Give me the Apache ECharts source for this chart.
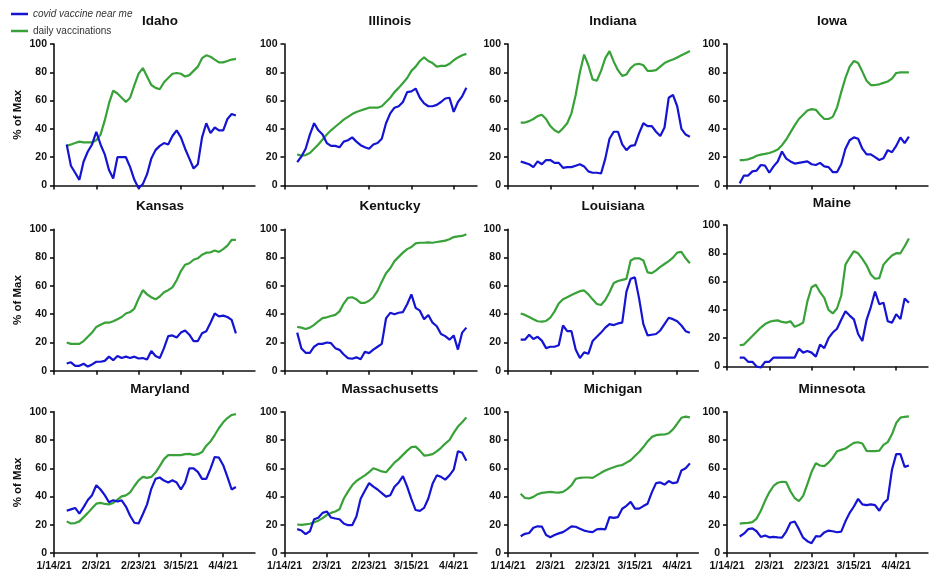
<!DOCTYPE html>
<html>
<head>
<meta charset="utf-8">
<script src="https://cdn.jsdelivr.net/npm/echarts@6.0.0/dist/echarts.min.js"></script>
<style>
  html, body { margin: 0; padding: 0; background: #fff; }
  #main { width: 929px; height: 574px; }
</style>
</head>
<body>
<div id="main"></div>
<script>
// panels, left to right, top to bottom
const states = ['Idaho', 'Illinois', 'Indiana', 'Iowa', 'Kansas', 'Kentucky', 'Louisiana', 'Maine',
  'Maryland', 'Massachusetts', 'Michigan', 'Minnesota'];

// sample dates (every 2nd day, 2021)
const dates = ['1/20', '1/22', '1/24', '1/26', '1/28', '1/30', '2/1', '2/3', '2/5', '2/7', '2/9', '2/11',
  '2/13', '2/15', '2/17', '2/19', '2/21', '2/23', '2/25', '2/27', '3/1', '3/3', '3/5', '3/7', '3/9',
  '3/11', '3/13', '3/15', '3/17', '3/19', '3/21', '3/23', '3/25', '3/27', '3/29', '3/31', '4/2', '4/4',
  '4/6', '4/8', '4/10'];
const tickDates = ['1/14', '2/3', '2/23', '3/15', '4/4'];
const tickLabels = ['1/14/21', '2/3/21', '2/23/21', '3/15/21', '4/4/21'];

// "covid vaccine near me" search interest, % of max
const idahoSearch = [29, 14, 9, 4, 17, 24, 29, 38, 29, 22, 11, 5, 20, 20, 20, 13, 4, -2, 1, 8, 19, 25, 28, 30, 29, 35, 39, 34, 26, 19, 12, 15, 34, 44, 37, 41, 39, 39, 47, 50.5, 49.5];
const illinoisSearch = [16.5, 20.5, 26, 36, 44, 39, 36, 30, 28, 28, 27, 31, 32, 34, 31, 28.5, 27, 26, 29, 30, 33, 44, 51, 55, 56, 59, 66, 66.5, 68.5, 62, 58, 56, 56, 57, 59, 61.5, 62, 52, 59, 63, 69];
const indianaSearch = [17, 16, 15, 13, 17, 15, 18, 18, 16, 16, 12.5, 13, 13, 14, 15, 13.5, 10, 9, 9, 8.5, 19, 33, 38, 38, 29, 25, 28, 28.5, 37, 44, 42, 42, 38, 35, 41, 62, 64, 56, 40, 36, 34.5];
const iowaSearch = [1.5, 7, 7, 10, 10.5, 14.5, 14, 9, 13.5, 17, 24, 19, 17, 15.5, 16, 16.5, 17, 15, 14.5, 16, 13.5, 13, 9.5, 9.4, 15, 26, 32, 34, 33, 26, 22, 22, 20, 18, 19.3, 25, 23.5, 28, 34, 30, 34.5];
const kansasSearch = [5.2, 6, 3.5, 3.5, 5, 3, 4.5, 6.4, 6.4, 7, 10, 7.5, 10.5, 9, 10, 9, 10, 8.7, 9, 8, 14, 10.5, 9, 16, 24.5, 25, 23.5, 27, 28.5, 25.5, 21, 21, 26.5, 28, 34, 40.5, 38.5, 39, 38, 36, 26.4];
const kentuckySearch = [27, 15.8, 12.7, 12.7, 17, 19, 19, 20, 19.5, 16, 14.8, 11.5, 9, 8.5, 9.5, 8.2, 13.5, 12.5, 15, 17, 19, 37, 41, 40, 41, 41.5, 47, 54, 44.5, 42.5, 36.5, 39.5, 34, 31.5, 26, 24.5, 22, 25, 15, 27, 30.5];
const louisianaSearch = [22, 22, 25.5, 22.5, 24, 21.3, 16, 17, 17, 18, 32, 28, 28, 15, 9, 13, 12, 21, 24, 27, 30.5, 33, 32.3, 33.5, 34, 56, 65, 66, 51, 33, 25, 25.5, 26, 28.5, 33, 37.5, 36.5, 35, 32, 28, 26.9];
const maineSearch = [6.3, 6.3, 3.3, 3.3, 0, -0.7, 3.3, 3.3, 6.3, 6.3, 6.3, 6.3, 6.3, 6.3, 12.6, 9.8, 11, 9.8, 7, 15.5, 13, 20, 24, 26.7, 33, 39, 36, 33.3, 23, 18, 33, 42, 53, 44, 45, 32, 31, 37, 33.5, 48, 45];
const marylandSearch = [30, 31, 32, 28, 32.6, 37.6, 41, 48, 45, 41, 36, 37.4, 36.5, 37.3, 33, 26.5, 21.5, 21, 27.5, 34.5, 45.5, 52.5, 53.5, 51.3, 50, 51.5, 50, 45, 50, 60, 60, 57.5, 52.5, 52.5, 59.8, 68, 67.5, 62.2, 54, 45, 46.8];
const massachusettsSearch = [17, 16, 13.5, 15.5, 24, 25, 28.5, 29.5, 25.2, 24.5, 24, 21, 19.8, 19.8, 26, 38.5, 44.1, 49.5, 47, 45, 42.5, 40, 41, 47, 50, 54.5, 47, 38.2, 30.5, 29.9, 32, 38.7, 49, 55, 54, 52, 55, 59, 72, 71, 65.3];
const michiganSearch = [12, 13.7, 14.3, 18, 19, 18.8, 12.8, 11.3, 12.8, 14, 14.9, 16.8, 19, 18.7, 17.3, 16, 15.3, 14.9, 16.8, 17.2, 16.9, 25.5, 25, 25.5, 31.4, 33.5, 36.3, 31.5, 31.5, 33.3, 35, 43, 49.5, 50, 48.5, 51, 49.5, 50, 58.5, 60, 63.5];
const minnesotaSearch = [11.8, 13.8, 17, 17.5, 15.5, 11.5, 12.5, 11.2, 11.6, 11.2, 11, 15.3, 21.5, 22.4, 17, 11, 8.5, 7.1, 12, 11.8, 14.7, 16, 15.5, 14.8, 15.3, 22.5, 28.5, 33, 38.4, 34.5, 34, 34.5, 34, 30, 35.3, 38, 59, 70, 70, 61, 62];

// daily vaccinations, % of max
const idahoDoses = [28, 29, 30, 31, 30.5, 30.5, 30.5, 32, 36, 46, 58, 67, 65, 62, 59, 62, 71, 79, 83, 77, 71, 69, 68, 73, 76, 79, 79.5, 79, 77, 78, 81, 84, 90, 92, 91, 89, 87, 87, 88, 89, 89.5];
const illinoisDoses = [22, 21, 21.5, 23, 26, 29, 32.5, 36, 39, 41.5, 44, 46.5, 48.5, 50.5, 52, 53, 54, 55, 55, 55, 56, 59, 62, 66, 69, 72.5, 76, 81, 84, 88, 90.5, 88, 86.5, 84, 84.5, 84.5, 86, 88.5, 90.5, 92, 93];
const indianaDoses = [44.5, 44.5, 45.5, 47, 49, 50, 47, 42, 39, 37.5, 40.5, 44, 51, 64, 80, 92.5, 85, 75, 74, 81, 90, 95, 87.5, 81.5, 77.5, 78.5, 83, 85.5, 86, 85, 81, 81, 81.5, 84, 86.5, 88, 89, 90.5, 92, 93.5, 95];
const iowaDoses = [18, 18, 18.5, 19.5, 21, 21.8, 22.3, 23, 24, 25.5, 28.5, 32.5, 37.5, 42.5, 47, 50, 53, 54, 53.5, 50, 47, 47, 48.5, 55, 66, 76, 84, 88, 86.5, 80.5, 74, 71, 71, 71.5, 72.5, 73.5, 75.5, 79.5, 80, 80, 80];
const kansasDoses = [20, 19, 19, 19, 21, 24, 27, 31, 32.5, 34, 34, 35, 36.5, 38, 40.5, 41.5, 44, 51, 57, 54, 52, 50.5, 52.5, 55.5, 57, 59, 64, 70.5, 75, 76, 78.5, 79.5, 82, 83.5, 83.7, 85, 84, 86, 88.5, 92.5, 92.5];
const kentuckyDoses = [31, 30.5, 29.5, 30.5, 32.5, 35, 37.2, 37.8, 38.7, 39.5, 42, 47.5, 51.5, 52, 50.5, 48, 48, 49.5, 52, 56.5, 63, 69, 72.5, 77.5, 80.5, 83.5, 86, 87.5, 90, 90.5, 90.5, 90.8, 90.5, 91, 91.5, 92, 93, 94.5, 95, 95.3, 96.5];
const louisianaDoses = [40.5, 39.5, 38, 36.5, 35, 34.7, 35.2, 37.5, 42, 47.5, 50.5, 52, 53.5, 55, 56.3, 56.8, 54, 50.5, 47.2, 46.5, 50, 55.5, 62, 63.5, 64.3, 65, 78, 79.5, 79.5, 78, 69.5, 69, 71, 73.5, 75.5, 77.5, 80, 83.5, 84, 79.5, 76];
const maineDoses = [15, 15.5, 18.5, 21.5, 24.5, 27.5, 30, 31.5, 32.3, 32.6, 31.5, 31, 32, 28.1, 29.3, 31, 46, 56, 57.8, 52.5, 48.5, 40, 37.5, 41, 50, 72, 77, 81.5, 80, 76, 71.5, 65, 62, 62.5, 72, 75.5, 78.5, 80.1, 80, 85, 90.5];
const marylandDoses = [22.5, 21, 21.3, 22.5, 25.5, 28.5, 31.8, 35, 35.6, 34.8, 34.5, 35.5, 37.8, 40.2, 40.9, 43, 47.5, 51.5, 53.9, 53.2, 53.9, 57, 61.5, 66.5, 69.3, 69.3, 69.3, 69.3, 70, 70.2, 69.5, 70, 71.5, 76, 79, 83.5, 88.5, 92.5, 95.5, 97.7, 98.3];
const massachusettsDoses = [20.3, 20, 20.4, 20.8, 21.8, 23, 24.8, 27, 28.5, 29.5, 31, 38.5, 43.5, 48, 51, 53, 55, 57.3, 60, 59, 57.8, 57.2, 60.6, 64, 66.5, 69.5, 72.5, 75, 75.3, 72.5, 69, 69.3, 70, 72, 74.5, 77.5, 80, 85, 89.5, 92.5, 96];
const michiganDoses = [42, 39, 38.7, 39.8, 41.7, 42.6, 43, 43.3, 43, 42.8, 43.3, 45.3, 48, 52.5, 53.3, 53.5, 53.5, 53.2, 55, 56.8, 58.5, 59.7, 60.7, 61.8, 62.3, 64, 65.7, 68.7, 71.5, 75, 79, 82.2, 83.4, 83.8, 83.9, 84.8, 87.5, 91.5, 95.7, 96.5, 96];
const minnesotaDoses = [20.9, 21.2, 21.4, 22, 24.5, 30, 37, 43, 47.5, 49.8, 50.5, 50.2, 43.8, 39, 36.8, 40.5, 48.8, 57.5, 63.5, 62, 61.5, 64, 67.5, 72, 73, 74, 76, 78, 78.4, 77.5, 72.3, 72.1, 72.1, 72.5, 76.5, 78.5, 84, 92, 95.8, 96.4, 96.7];

const searchData = [idahoSearch, illinoisSearch, indianaSearch, iowaSearch, kansasSearch, kentuckySearch,
  louisianaSearch, maineSearch, marylandSearch, massachusettsSearch, michiganSearch, minnesotaSearch];
const dosesData = [idahoDoses, illinoisDoses, indianaDoses, iowaDoses, kansasDoses, kentuckyDoses,
  louisianaDoses, maineDoses, marylandDoses, massachusettsDoses, michiganDoses, minnesotaDoses];

const SEARCH = 'covid vaccine near me';
const DOSES = 'daily vaccinations';
const BLUE = '#1414d2';
const GREEN = '#38a238';
const FONT = 'Liberation Sans, Arial, sans-serif';
const INK = '#111';

// days since 1/14/21
function dayOf(md) {
  const [m, d] = md.split('/').map(Number);
  return (Date.UTC(2021, m - 1, d) - Date.UTC(2021, 0, 14)) / 864e5;
}
const days = dates.map(dayOf);
const tickDays = tickDates.map(dayOf);

// layout
const colLeft = [54, 284.5, 508, 727];
const colMax = [95, 91, 90, 95];
const pxPerDay = 2.115;
const rowTop = [44, 229.3, 411.7];
const plotH = 141.5;
const titleX = [160, 390, 613, 832];
const titleTop = [14, 199, 382];

const chart = echarts.init(document.getElementById('main'), null, { renderer: 'canvas' });

const grid = [], xAxis = [], yAxis = [], series = [], title = [];
states.forEach((name, i) => {
  const r = Math.floor(i / 4), c = i % 4;
  const top = name === 'Maine' ? 225 : rowTop[r];
  grid.push({
    left: colLeft[c], top: top, width: colMax[c] * pxPerDay, height: plotH,
    containLabel: false, outerBoundsMode: 'none'
  });
  title.push({
    text: name, left: titleX[c], top: name === 'Maine' ? 196 : titleTop[r],
    textAlign: 'center', padding: 0,
    textStyle: { fontFamily: FONT, fontSize: 13.5, fontWeight: 'bold', color: INK }
  });
  xAxis.push({
    type: 'value', gridIndex: i, min: 0, max: colMax[c],
    axisLine: { lineStyle: { color: INK, width: 1.6 } },
    axisTick: { show: true, length: 4, customValues: tickDays, lineStyle: { color: INK, width: 1.6 } },
    axisLabel: {
      show: r === 2, customValues: tickDays, margin: 7,
      formatter: v => tickLabels[tickDays.indexOf(v)] || '',
      fontFamily: FONT, fontSize: 10.5, fontWeight: 'bold', color: INK
    },
    splitLine: { show: false }
  });
  yAxis.push({
    type: 'value', gridIndex: i, min: 0, max: 100, interval: 20,
    name: c === 0 ? '% of Max' : '', nameLocation: 'middle', nameGap: 30, nameRotate: 90,
    nameTextStyle: { fontFamily: FONT, fontSize: 11.5, fontWeight: 'bold', color: INK },
    axisLine: { show: true, lineStyle: { color: INK, width: 1.6 } },
    axisTick: { show: true, length: 4, lineStyle: { color: INK, width: 1.6 } },
    axisLabel: { margin: 7, fontFamily: FONT, fontSize: 10.5, fontWeight: 'bold', color: INK },
    splitLine: { show: false }
  });
  series.push({
    name: DOSES, type: 'line', xAxisIndex: i, yAxisIndex: i,
    data: days.map((d, k) => [d, dosesData[i][k]]),
    showSymbol: false, symbol: 'none', clip: false, silent: true,
    lineStyle: { color: GREEN, width: 2.2 }, itemStyle: { color: GREEN }
  });
  series.push({
    name: SEARCH, type: 'line', xAxisIndex: i, yAxisIndex: i,
    data: days.map((d, k) => [d, searchData[i][k]]),
    showSymbol: false, symbol: 'none', clip: false, silent: true,
    lineStyle: { color: BLUE, width: 2.2 }, itemStyle: { color: BLUE }
  });
});

const legendBase = {
  left: 11, icon: 'rect', itemWidth: 17, itemHeight: 2.5, padding: 0, selectedMode: false,
  textStyle: { fontFamily: FONT, fontSize: 10, color: '#333' }
};

chart.setOption({
  animation: false,
  backgroundColor: '#fff',
  title: title,
  legend: [
    Object.assign({}, legendBase, { top: 9, data: [{ name: SEARCH, textStyle: { fontStyle: 'italic' } }] }),
    Object.assign({}, legendBase, { top: 26, data: [DOSES] })
  ],
  grid: grid,
  xAxis: xAxis,
  yAxis: yAxis,
  series: series
});
</script>
</body>
</html>
